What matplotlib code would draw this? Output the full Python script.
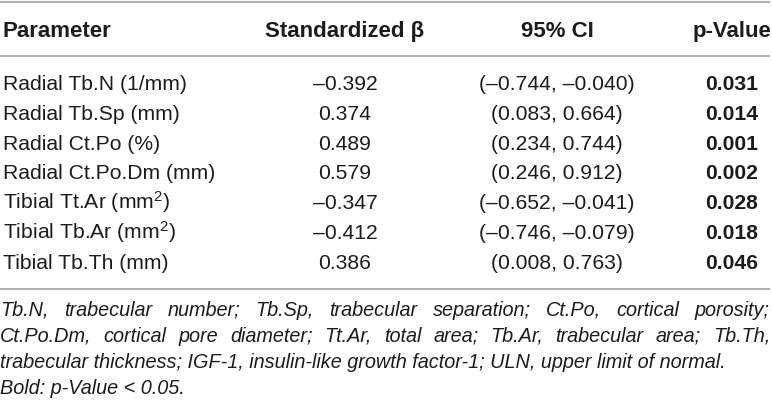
import matplotlib
matplotlib.use('Agg')

import matplotlib.pyplot as plt

plt.rcParams['font.family'] = ['Liberation Sans', 'DejaVu Sans']
plt.rcParams['mathtext.fontset'] = 'custom'
plt.rcParams['mathtext.rm'] = 'Liberation Sans'
plt.rcParams['mathtext.it'] = 'Liberation Sans:italic'

headers = ['Parameter', 'Standardized \u03b2', '95% CI', 'p-Value']
params = ['Radial Tb.N (1/mm)', 'Radial Tb.Sp (mm)', 'Radial Ct.Po (%)',
          'Radial Ct.Po.Dm (mm)', 'Tibial Tt.Ar (mm$^2$)', 'Tibial Tb.Ar (mm$^2$)',
          'Tibial Tb.Th (mm)']
betas = ['\u20130.392', '0.374', '0.489', '0.579', '\u20130.347', '\u20130.412', '0.386']
cis = ['(\u20130.744, \u20130.040)', '(0.083, 0.664)', '(0.234, 0.744)', '(0.246, 0.912)',
       '(\u20130.652, \u20130.041)', '(\u20130.746, \u20130.079)', '(0.008, 0.763)']
pvals = ['0.031', '0.014', '0.001', '0.002', '0.028', '0.018', '0.046']
footnote = [
    'Tb.N, trabecular number; Tb.Sp, trabecular separation; Ct.Po, cortical porosity;',
    'Ct.Po.Dm, cortical pore diameter; Tt.Ar, total area; Tb.Ar, trabecular area; Tb.Th,',
    'trabecular thickness; IGF-1, insulin-like growth factor-1; ULN, upper limit of normal.',
    'Bold: p-Value < 0.05.',
]

W, H = 772, 408
fig = plt.figure(figsize=(W / 100, H / 100), dpi=100)
ax = fig.add_axes([0, 0, 1, 1])
ax.set_xlim(0, W)
ax.set_ylim(H, 0)
ax.axis('off')

txt = '#1e1b1c'
rule = '#a6a6a6'
fs = 15.2
fs_head = 16
fs_note = 14.3

# column anchors
col_x = [3, 345, 557, 732]
col_ha = ['left', 'center', 'center', 'center']

for y in [1.5, 55.5, 289]:
    ax.hlines(y, 0, 770, color=rule, lw=1.3)

for j, h in enumerate(headers):
    ax.text(col_x[j], 37, h, ha=col_ha[j], va='baseline', fontsize=fs_head,
            fontweight='bold', color=txt)

for i in range(len(params)):
    yb = 90 + i * 29.8
    ax.text(col_x[0], yb, params[i], ha='left', va='baseline', fontsize=fs, color=txt)
    ax.text(col_x[1], yb, betas[i], ha='center', va='baseline', fontsize=fs, color=txt)
    ax.text(col_x[2], yb, cis[i], ha='center', va='baseline', fontsize=fs, color=txt)
    ax.text(col_x[3], yb, pvals[i], ha='center', va='baseline', fontsize=fs,
            fontweight='bold', color=txt)

# footnote, first two lines justified to the table width
fig.canvas.draw()
renderer = fig.canvas.get_renderer()
left, right = 0, 770
for k, line in enumerate(footnote):
    yb = 316 + k * 26
    words = line.split(' ')
    if k < 2:
        objs = [ax.text(0, yb, w, ha='left', va='baseline', fontsize=fs_note,
                        style='italic', color=txt) for w in words]
        widths = [o.get_window_extent(renderer).width for o in objs]
        gap = (right - left - sum(widths)) / (len(words) - 1)
        x = left
        for o, wd in zip(objs, widths):
            o.set_x(x)
            x += wd + gap
    else:
        ax.text(left, yb, line, ha='left', va='baseline', fontsize=fs_note,
                style='italic', color=txt)

plt.savefig('out.png', dpi=100)
